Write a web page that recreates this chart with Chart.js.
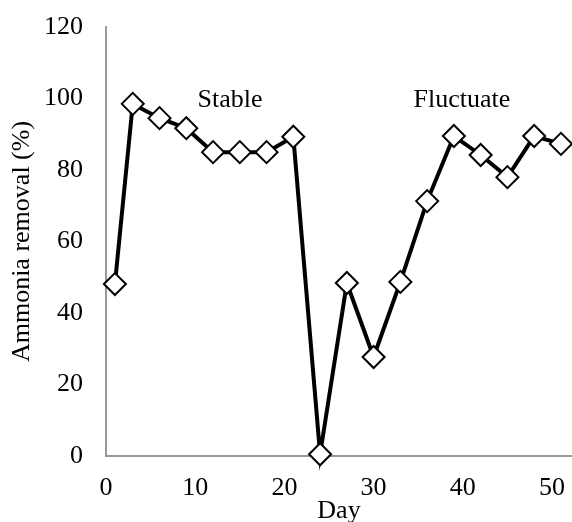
<!DOCTYPE html>
<html>
<head>
<meta charset="utf-8">
<script src="https://cdn.jsdelivr.net/npm/chart.js@4"></script>
<style>
html,body{margin:0;padding:0;background:#fff;}
#wrap{width:572px;height:522px;position:relative;}
</style>
</head>
<body>
<div id="wrap"><canvas id="c" width="572" height="522"></canvas></div>
<script>
const days = [1, 3, 6, 9, 12, 15, 18, 21, 24, 27, 30, 33, 36, 39, 42, 45, 48, 51];
const removal = [48.1, 98.5, 94.5, 91.7, 85, 85, 85, 89.3, 0.5, 48.4, 27.7, 48.7, 71.3, 89.5, 84.2, 78, 89.5, 87.3];
const xTicks = [0, 10, 20, 30, 40, 50];
const yTicks = [0, 20, 40, 60, 80, 100, 120];
const noteLabels = ['Stable', 'Fluctuate'];
const noteX = [13.9, 39.9];
const noteY = [99.6, 99.6];

const FONT = '"Liberation Serif", "Times New Roman", serif';
const FS = 26;

const notesPlugin = {
  id: 'notes',
  afterDatasetsDraw(chart) {
    const {ctx, scales: {x, y}} = chart;
    ctx.save();
    ctx.font = FS + 'px ' + FONT;
    ctx.fillStyle = '#000';
    ctx.textAlign = 'center';
    ctx.textBaseline = 'middle';
    noteLabels.forEach((t, i) => ctx.fillText(t, x.getPixelForValue(noteX[i]), y.getPixelForValue(noteY[i])));
    ctx.restore();
  }
};

new Chart(document.getElementById('c'), {
  type: 'scatter',
  data: {
    datasets: [{
      data: days.map((d, i) => ({x: d, y: removal[i]})),
      showLine: true,
      borderColor: '#000',
      borderWidth: 4,
      pointStyle: 'rectRot',
      pointRadius: 11,
      pointHoverRadius: 11,
      pointBackgroundColor: '#fff',
      pointBorderColor: '#000',
      pointBorderWidth: 2,
      tension: 0,
      clip: false
    }]
  },
  options: {
    responsive: false,
    animation: false,
    devicePixelRatio: 1,
    layout: {autoPadding: false, padding: {top: 27, right: 0, left: 0, bottom: 0}},
    plugins: {legend: {display: false}, tooltip: {enabled: false}},
    scales: {
      x: {
        type: 'linear',
        min: 0,
        max: 52.24,
        afterBuildTicks(s) { s.ticks = xTicks.map(v => ({value: v})); },
        afterFit(s) { s.height = 66; },
        grid: {display: false, drawTicks: false},
        border: {display: true, color: '#999999', width: 2},
        ticks: {color: '#000', font: {family: FONT, size: FS, lineHeight: 2.46}, padding: 0, maxRotation: 0},
        title: {display: true, text: 'Day', color: '#000', font: {family: FONT, size: FS, lineHeight: 0.8}, padding: {top: 0, bottom: 0}}
      },
      y: {
        min: 0,
        max: 120,
        afterBuildTicks(s) { s.ticks = yTicks.map(v => ({value: v})); },
        afterFit(s) { s.width = 106; },
        grid: {display: false, drawTicks: false},
        border: {display: true, color: '#999999', width: 2},
        ticks: {color: '#000', font: {family: FONT, size: FS, lineHeight: 0.2}, padding: 23},
        title: {display: true, text: 'Ammonia removal (%)', color: '#000', font: {family: FONT, size: FS, lineHeight: 1}, padding: {top: 9, bottom: 0}}
      }
    }
  },
  plugins: [notesPlugin]
});
</script>
</body>
</html>
